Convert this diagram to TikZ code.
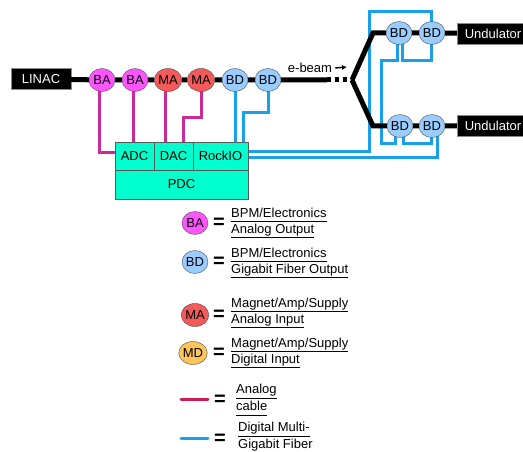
\documentclass[tikz,border=0pt]{standalone}
\usepackage{fontspec}
\setmainfont{Liberation Sans}
\usetikzlibrary{arrows.meta,shapes.geometric,backgrounds}
\definecolor{baPink}{HTML}{FF55FF}
\definecolor{maRed}{HTML}{F45A5A}
\definecolor{bdBlue}{HTML}{99CCFF}
\definecolor{mdGold}{HTML}{FFC55A}
\definecolor{pdcGreen}{HTML}{00FFCC}
\definecolor{anaMag}{HTML}{CC2A99}
\definecolor{anaRed}{HTML}{D01A5A}
\definecolor{fibBlue}{HTML}{1AA0E8}
\newcommand\keyline[1]{\underline{#1\vphantom{gy}}}
\tikzset{
  txt/.style    = {font=\fontsize{13}{15}\selectfont},
  unit/.style   = {draw=black!70, ellipse, minimum width=26pt, minimum height=23pt,
                   inner sep=0pt, txt},
  ba/.style     = {unit, fill=baPink},
  bd/.style     = {unit, fill=bdBlue},
  ma/.style     = {unit, fill=maRed},
  md/.style     = {unit, fill=mdGold},
  blk/.style    = {draw=black!45, fill=black, text=white, minimum height=21pt,
                   inner sep=2pt, txt},
  cell/.style   = {draw=black!65, fill=pdcGreen, minimum height=28pt, inner sep=0pt, txt},
  beam/.style   = {line width=5pt},
  analog/.style = {line width=3pt, draw=anaMag},
  fiber/.style  = {line width=3pt, draw=fibBlue},
  eqsign/.style = {font=\fontsize{20}{20}\selectfont\bfseries, inner sep=0pt},
  key/.style    = {anchor=west, align=left, inner sep=0pt,
                   font=\fontsize{13}{16}\selectfont}
}

\begin{document}
\begin{tikzpicture}[x=1pt,y=-1pt]
  \useasboundingbox (0,0) rectangle (523,452);

  % beam line
  \node[blk, minimum width=60pt] (linac) at (41,79) {LINAC};
  \node[ba] (ba1) at (102,80) {BA};
  \node[ba] (ba2) at (135,80) {BA};
  \node[ma] (ma1) at (168,80) {MA};
  \node[ma] (ma2) at (201,80) {MA};
  \node[bd] (bd1) at (235,80) {BD};
  \node[bd] (bd2) at (268,80) {BD};
  \coordinate (dots) at (327,80);
  \coordinate (split) at (352,80);
  \coordinate (ukink) at (373,33);
  \coordinate (lkink) at (373,126);
  \node[bd] (ubd1) at (399,33) {BD};
  \node[bd] (ubd2) at (432,33) {BD};
  \node[bd] (lbd1) at (400,126) {BD};
  \node[bd] (lbd2) at (432,126) {BD};
  \node[blk, minimum width=72pt] (und1) at (493,33.5) {Undulator};
  \node[blk, minimum width=72pt] (und2) at (493,126) {Undulator};

  \draw[beam] (linac) -- (ba1) -- (ba2) -- (ma1) -- (ma2) -- (bd1) -- (bd2) -- (dots);
  \draw[beam, dash pattern=on 4pt off 4pt] (dots) -- (split);
  \draw[beam] (split) -- (ukink) -- (ubd1) -- (ubd2) -- (und1);
  \draw[beam] (split) -- (lkink) -- (lbd1) -- (lbd2) -- (und2);

  \node[txt, inner sep=1pt] (ebeam) at (310,68) {e-beam};
  \coordinate (ebtip) at (347,67);
  \draw[-{Latex[length=5pt,width=5pt]}, line width=1.4pt] ([xshift=2]ebeam.east) -- (ebtip);

  % PDC crate
  \node[cell, minimum width=39pt] (adc) at (134.5,156) {ADC};
  \node[cell, minimum width=39pt] (dac) at (173.5,156) {DAC};
  \node[cell, minimum width=55pt] (rockio) at (220.5,156) {RockIO};
  \node[cell, minimum width=133pt, minimum height=29pt] (pdc) at (181.5,184.5) {PDC};

  % cables
  \begin{scope}[on background layer]
    \draw[analog] ([xshift=-3]ba1.center) |- ([yshift=3]adc.west);
    \draw[analog] ([xshift=-2]ba2.center) -- ([xshift=-2]ba2.center |- adc.north);
    \draw[analog] ([xshift=-3]ma1.center) -- ([xshift=-3]ma1.center |- dac.north);
    \draw[analog] (ma2.center) -- ++(0,38) -| ([xshift=-10]dac.north east);
    \draw[fiber] (bd1.center) -- (bd1.center |- rockio.north);
    \draw[fiber] (bd2.center) -- ++(0,33) -| ([xshift=-5]rockio.north east);
    \draw[fiber] ([yshift=4]rockio.east) -| (369,12) -| ([xshift=-1]ubd2.center);
    \draw[fiber] ([yshift=-2]rockio.east) -| ([xshift=5]lbd2.center);
    \draw[fiber] ([xshift=-2]ubd1.center) |- (381,61) |- (395,144) -- ([xshift=-5]lbd1.center);
    \draw[fiber] ([xshift=3]ubd1.center) -- ++(0,28) -| ([xshift=-1]ubd2.center);
    \draw[fiber] ([xshift=3]lbd1.center) -- ++(0,18) -| ([xshift=-1]lbd2.center);
  \end{scope}

  % legend
  \node[ba] (kba) at (195,223) {BA};
  \node[eqsign] (eq1) at (219,223) {=};
  \node[key] (tba) at (231,223) {\keyline{BPM/Electronics}\\\keyline{Analog Output}};
  \node[bd] (kbd) at (195,262) {BD};
  \node[eqsign] (eq2) at (219,262) {=};
  \node[key] (tbd) at (231,263) {\keyline{BPM/Electronics}\\\keyline{Gigabit Fiber Output}};
  \node[ma] (kma) at (195,315) {MA};
  \node[eqsign] (eq3) at (219,315) {=};
  \node[key] (tma) at (231,313) {\keyline{Magnet/Amp/Supply}\\\keyline{Analog Input}};
  \node[md] (kmd) at (193,353) {MD};
  \node[eqsign] (eq4) at (219,353) {=};
  \node[key] (tmd) at (231,353) {\keyline{Magnet/Amp/Supply}\\\keyline{Digital Input}};

  \coordinate (ka1) at (181,399);
  \coordinate (ka2) at (208,399);
  \draw[analog, draw=anaRed, line cap=round] (ka1) -- (ka2);
  \node[eqsign] (eq5) at (220,400) {=};
  \node[key, font=\fontsize{13}{17}\selectfont] (tana) at (236,400) {\keyline{Analog}\\\keyline{cable}};
  \coordinate (kf1) at (181,438);
  \coordinate (kf2) at (208,438);
  \draw[fiber, line cap=round] (kf1) -- (kf2);
  \node[eqsign] (eq6) at (220,439) {=};
  \node[key, font=\fontsize{13}{17}\selectfont] (tfib) at (238,438) {\keyline{Digital Multi-}\\\keyline{Gigabit Fiber}};
\end{tikzpicture}
\end{document}
